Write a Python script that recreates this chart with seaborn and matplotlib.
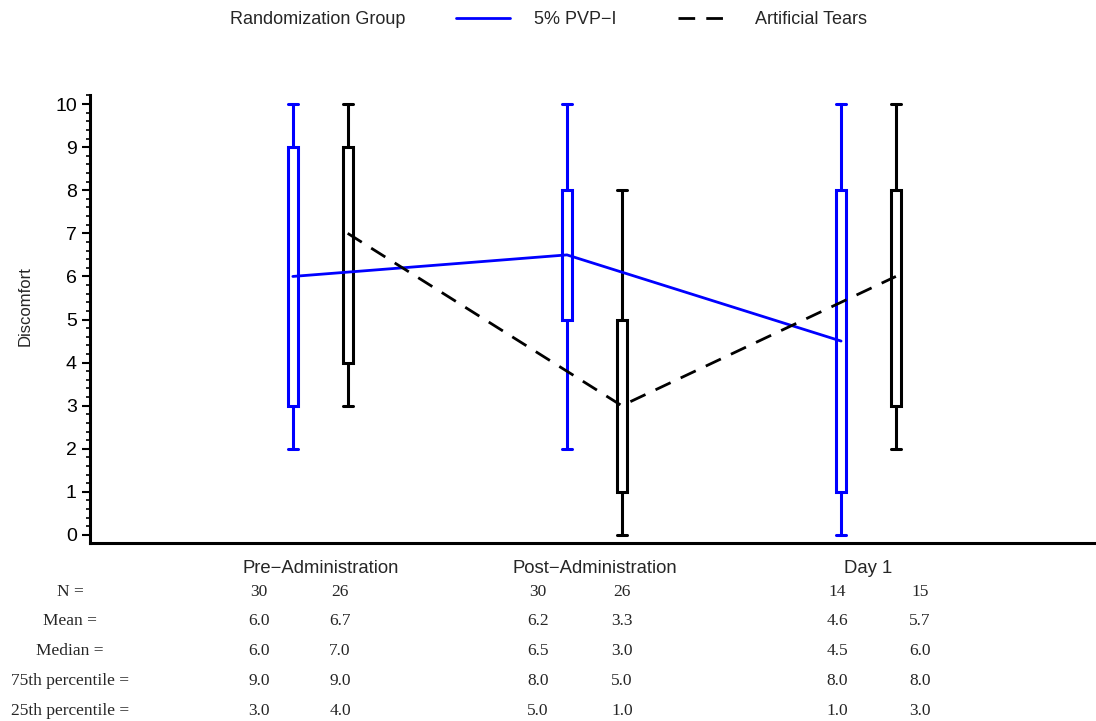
import numpy as np
import pandas as pd
import matplotlib
matplotlib.use("Agg")
import matplotlib.pyplot as plt
from matplotlib.ticker import MultipleLocator
import seaborn as sns

# Summary statistics
timepoints = ["Pre\u2212Administration", "Post\u2212Administration", "Day 1"]
groups = ["5% PVP\u2212I", "Artificial Tears"]

pvp_min = [2, 2, 0]
pvp_q1 = [3, 5, 1]
pvp_med = [6, 6.5, 4.5]
pvp_q3 = [9, 8, 8]
pvp_max = [10, 10, 10]
pvp_n = [30, 30, 14]
pvp_mean = [6.0, 6.2, 4.6]

at_min = [3, 0, 2]
at_q1 = [4, 1, 3]
at_med = [7, 3, 6]
at_q3 = [9, 5, 8]
at_max = [10, 8, 10]
at_n = [26, 26, 15]
at_mean = [6.7, 3.3, 5.7]

colors = {groups[0]: "#0000ff", groups[1]: "black"}
offset = 0.1

sns.set_style("ticks")
plt.rcParams["font.family"] = ["Liberation Sans", "DejaVu Sans"]

fig = plt.figure(figsize=(10.96, 7.21), dpi=100)
ax = fig.add_axes([90 / 1096, 0.2469, 1 - 90 / 1096, 0.8682 - 0.2469])

base = np.arange(len(timepoints))
stats_sets = [
    (groups[0], -offset, pvp_min, pvp_q1, pvp_med, pvp_q3, pvp_max),
    (groups[1], offset, at_min, at_q1, at_med, at_q3, at_max),
]

rows = []
for g, off, mn, q1, md, q3, mx in stats_sets:
    stats = []
    for i in range(len(timepoints)):
        stats.append(dict(whislo=mn[i], q1=q1[i], med=md[i], q3=q3[i], whishi=mx[i], fliers=[]))
        rows.append({"x": base[i] + off, "median": md[i], "group": g})
    c = colors[g]
    ax.bxp(stats, positions=base + off, widths=0.036, capwidths=0.036,
           showfliers=False, patch_artist=True,
           boxprops=dict(facecolor="white", edgecolor=c, linewidth=2.2),
           whiskerprops=dict(color=c, linewidth=2.2),
           capprops=dict(color=c, linewidth=2.2),
           medianprops=dict(linestyle="none"), manage_ticks=False, zorder=2)

df = pd.DataFrame(rows)
sns.lineplot(data=df, x="x", y="median", hue="group", style="group",
             palette=colors, dashes={groups[0]: "", groups[1]: (6, 4)},
             linewidth=2, sort=False, ax=ax, zorder=3)

ax.set_xlim(-0.84, 2.83)
ax.set_ylim(-0.186, 10.21)
ax.yaxis.set_major_locator(MultipleLocator(1))
ax.yaxis.set_minor_locator(MultipleLocator(0.2))
ax.set_xticks(base)
ax.set_xticklabels(timepoints, fontsize=13.3)
ax.tick_params(axis="x", length=0, pad=12)
ax.tick_params(axis="y", which="major", length=6, width=1.5, labelsize=14, colors="black")
ax.tick_params(axis="y", which="minor", length=3, width=1.2, colors="black")
ax.set_xlabel("")
ax.set_ylabel("Discomfort", fontsize=12)
ax.yaxis.set_label_coords(-0.057, 0.53)
for s in ["top", "right"]:
    ax.spines[s].set_visible(False)
for s in ["left", "bottom"]:
    ax.spines[s].set_linewidth(2.2)
    ax.spines[s].set_color("black")

# Legend across the top
sns.move_legend(ax, "center left", bbox_to_anchor=(440 / 1096, 1 - 20 / 721),
                bbox_transform=fig.transFigure, ncol=2, title=None, frameon=False,
                fontsize=13, handlelength=3.0, handletextpad=1.3, columnspacing=3.4)
fig.text(230 / 1096, 1 - 20 / 721, "Randomization Group", fontsize=13, va="center")

# Summary table below the axis
row_labels = ["N =", "Mean =", "Median =", "75th percentile =", "25th percentile ="]
row_y = [592, 621, 651, 681, 711]
col_x = [(259, 340), (538, 622), (837, 920)]
for lab, y in zip(row_labels, row_y):
    fig.text(70 / 1096, 1 - y / 721, lab, fontsize=12.5, family="Liberation Serif",
             ha="center", va="center")
for i in range(len(timepoints)):
    vals = [
        (str(pvp_n[i]), str(at_n[i])),
        (f"{pvp_mean[i]:.1f}", f"{at_mean[i]:.1f}"),
        (f"{pvp_med[i]:.1f}", f"{at_med[i]:.1f}"),
        (f"{pvp_q3[i]:.1f}", f"{at_q3[i]:.1f}"),
        (f"{pvp_q1[i]:.1f}", f"{at_q1[i]:.1f}"),
    ]
    for (a, b), y in zip(vals, row_y):
        for txt, x in zip((a, b), col_x[i]):
            fig.text(x / 1096, 1 - y / 721, txt, fontsize=12.5, family="Liberation Serif",
                     ha="center", va="center")

fig.savefig("out.png", dpi=100)
